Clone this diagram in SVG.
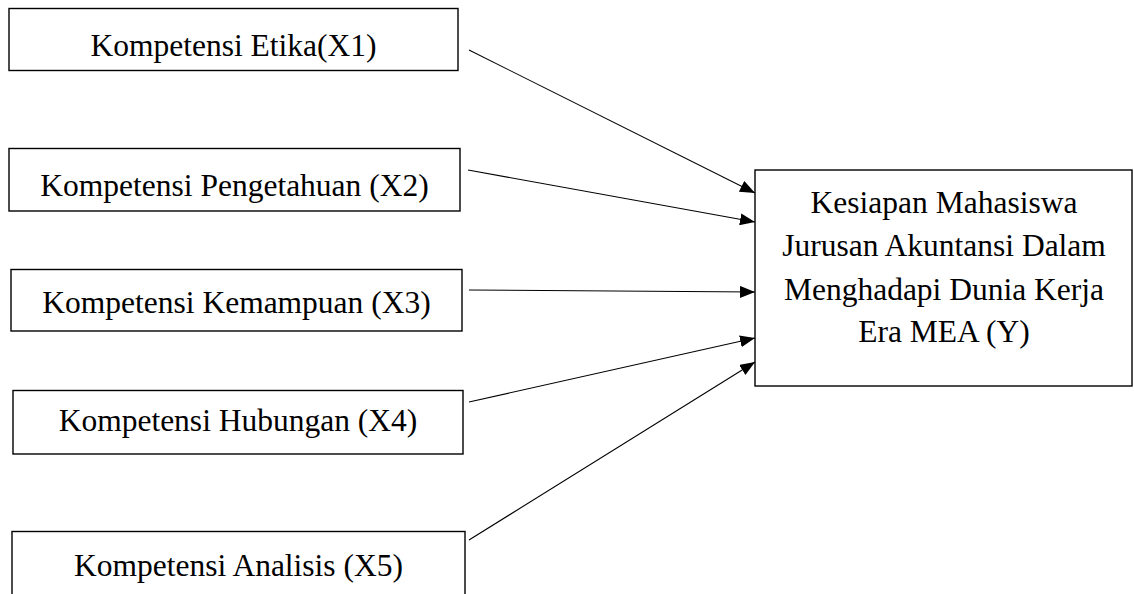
<svg xmlns="http://www.w3.org/2000/svg" width="1134" height="594" viewBox="0 0 1134 594">
<style>
.box{fill:#fff;stroke:#000;stroke-width:1.4}
.lbl{font-family:"Liberation Serif","Times New Roman",serif;font-size:31.5px;fill:#000;text-anchor:middle}
.con{stroke:#000;stroke-width:1.1;fill:none;marker-end:url(#ah)}
</style>
<defs>
<marker id="ah" markerUnits="userSpaceOnUse" markerWidth="16" markerHeight="12" refX="15" refY="6" orient="auto">
<path d="M0,0 L15,6 L0,12 Z" fill="#000"/>
</marker>
</defs>
<rect width="1134" height="594" fill="#fff"/>
<g id="x1"><rect class="box" x="9" y="8.5" width="449" height="62"/><text class="lbl" x="233.5" y="56">Kompetensi Etika(X1)</text></g>
<g id="x2"><rect class="box" x="9" y="148.5" width="451" height="62.5"/><text class="lbl" x="234.5" y="196">Kompetensi Pengetahuan (X2)</text></g>
<g id="x3"><rect class="box" x="11" y="269.5" width="451" height="61.5"/><text class="lbl" x="236.5" y="313">Kompetensi Kemampuan (X3)</text></g>
<g id="x4"><rect class="box" x="13" y="390.5" width="450" height="63.5"/><text class="lbl" x="238" y="431">Kompetensi Hubungan (X4)</text></g>
<g id="x5"><rect class="box" x="12" y="531.5" width="453" height="80"/><text class="lbl" x="238.5" y="576">Kompetensi Analisis (X5)</text></g>
<g id="y"><rect class="box" x="755" y="170" width="377" height="216"/>
<text class="lbl" x="944" y="213">Kesiapan Mahasiswa</text>
<text class="lbl" x="944" y="256">Jurusan Akuntansi Dalam</text>
<text class="lbl" x="944" y="300">Menghadapi Dunia Kerja</text>
<text class="lbl" x="944" y="342">Era MEA (Y)</text>
</g>
<g id="connectors">
<line class="con" x1="469" y1="50" x2="755" y2="193"/>
<line class="con" x1="468" y1="170" x2="755" y2="222"/>
<line class="con" x1="469" y1="290" x2="755" y2="292"/>
<line class="con" x1="469" y1="402" x2="755" y2="338"/>
<line class="con" x1="469" y1="540" x2="755" y2="362"/>
</g>
</svg>
